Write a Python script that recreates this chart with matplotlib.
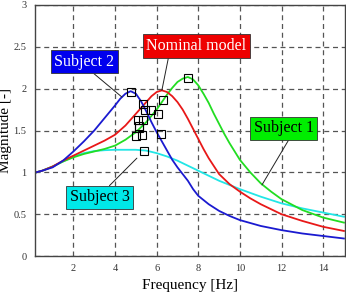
import matplotlib
matplotlib.use('Agg')
import matplotlib.pyplot as plt

plt.rcParams['font.family'] = ['Liberation Serif', 'DejaVu Serif']

# Frequency [Hz] / magnitude
freq_s1 = [0.2, 0.5, 1, 1.5, 2, 2.5, 3, 3.5, 4, 4.5, 5, 5.5, 6, 6.25, 6.5, 6.75,
           7, 7.25, 7.5, 7.75, 8, 8.25, 8.5, 8.75, 9, 9.25, 9.5, 9.75, 10, 10.5,
           11, 11.5, 12, 13, 14, 15]
mag_s1 = [1.0, 1.02, 1.07, 1.13, 1.18, 1.22, 1.25, 1.28, 1.32, 1.39, 1.48, 1.60,
          1.75, 1.84, 1.93, 2.01, 2.08, 2.12, 2.14, 2.11, 2.04, 1.94, 1.83, 1.70,
          1.58, 1.46, 1.35, 1.25, 1.15, 1.00, 0.87, 0.77, 0.68, 0.55, 0.46, 0.40]

freq_s2 = [0.2, 0.5, 1, 1.5, 2, 2.5, 3, 3.5, 4, 4.25, 4.5, 4.75, 5, 5.25, 5.5,
           5.75, 6, 6.25, 6.5, 6.75, 7, 7.25, 7.5, 7.75, 8, 8.5, 9, 9.5, 10, 11,
           12, 13, 14, 15]
mag_s2 = [1.0, 1.02, 1.06, 1.14, 1.25, 1.37, 1.50, 1.65, 1.80, 1.88, 1.94, 1.97,
          1.94, 1.85, 1.73, 1.60, 1.48, 1.37, 1.26, 1.15, 1.06, 0.98, 0.90, 0.80,
          0.72, 0.62, 0.54, 0.48, 0.43, 0.36, 0.31, 0.27, 0.24, 0.21]

freq_s3 = [0.2, 0.5, 1, 1.5, 2, 2.5, 3, 3.5, 4, 4.5, 5, 5.5, 6, 6.5, 7, 7.5, 8,
           8.5, 9, 9.5, 10, 11, 12, 13, 14, 15]
mag_s3 = [1.0, 1.02, 1.07, 1.13, 1.19, 1.23, 1.255, 1.265, 1.27, 1.27, 1.27, 1.26,
          1.23, 1.19, 1.14, 1.08, 1.02, 0.96, 0.90, 0.85, 0.80, 0.71, 0.63, 0.57,
          0.52, 0.47]

freq_nom = [0.2, 0.5, 1, 1.5, 2, 2.5, 3, 3.5, 4, 4.5, 5, 5.25, 5.5, 5.75, 6,
            6.25, 6.5, 6.75, 7, 7.25, 7.5, 7.75, 8, 8.25, 8.5, 9, 9.5, 10, 10.5,
            11, 12, 13, 14, 15]
mag_nom = [1.0, 1.02, 1.07, 1.14, 1.20, 1.26, 1.32, 1.38, 1.45, 1.56, 1.70, 1.77,
           1.84, 1.91, 1.96, 1.98, 1.96, 1.91, 1.84, 1.75, 1.64, 1.52, 1.40, 1.28,
           1.17, 0.98, 0.86, 0.77, 0.69, 0.62, 0.50, 0.42, 0.35, 0.30]

# identified peaks (squares)
peak_f = [4.77, 5.33, 5.46, 5.73, 6.05, 6.31, 5.09, 5.33, 5.14, 5.17, 5.01, 5.30,
          6.21, 5.41, 7.49]
peak_m = [1.955, 1.82, 1.74, 1.74, 1.70, 1.86, 1.63, 1.62, 1.56, 1.53, 1.44, 1.45,
          1.46, 1.26, 2.13]

fig = plt.figure(figsize=(3.46, 2.93), dpi=100)
ax = fig.add_axes([0.101, 0.126, 0.896, 0.857])

ax.plot(freq_s3, mag_s3, color='#22e6e6', lw=1.3)
ax.plot(freq_s1, mag_s1, color='#22dd22', lw=1.3)
ax.plot(freq_nom, mag_nom, color='#e81818', lw=1.3)
ax.plot(freq_s2, mag_s2, color='#1a1ad0', lw=1.3)
ax.plot(peak_f, peak_m, 's', mfc='none', mec='black', ms=5.5, mew=0.8)

ax.set_xlim(0.15, 15.05)
ax.set_ylim(0, 3)
ax.set_xticks([2, 4, 6, 8, 10, 12, 14])
ax.set_yticks([0, 0.5, 1, 1.5, 2, 2.5, 3])
ax.set_yticklabels(['0', '0.5', '1', '1.5', '2', '2.5', '3'])
ax.tick_params(labelsize=7.5, length=0, pad=6, colors='#333333')
ax.grid(True, linestyle=(0, (4, 3)), color='#555555', lw=0.9)
for s in ax.spines.values():
    s.set_color('#444444')
    s.set_linewidth(1.0)

ax.set_xlabel('Frequency [Hz]', fontsize=11)
ax.set_ylabel('Magnitude [-]', fontsize=11)
ax.yaxis.set_label_coords(-0.075, 0.5)

labels = [
    ('Subject 2', (2.51, 2.32), (4.33, 1.90), '#0000ee', 'white', (0.59, 0)),
    ('Nominal model', (7.90, 2.51), (6.25, 1.98), '#ee0000', 'white', (0.23, 0)),
    ('Subject 1', (12.11, 1.53), (11.06, 0.85), '#00ee00', 'black', (0.62, 0)),
    ('Subject 3', (3.26, 0.70), (5.05, 1.17), '#00e8e8', 'black', (0.6, 1)),
]
for txt, tpos, xy, fc, tc, rp in labels:
    ax.annotate(txt, xy=xy, xytext=tpos, ha='center', va='center',
                fontsize=11.5, color=tc,
                bbox=dict(boxstyle='square,pad=0.22', fc=fc, ec='#333333', lw=0.6),
                arrowprops=dict(arrowstyle='-', color='#222222', lw=0.7,
                                relpos=rp, shrinkA=0, shrinkB=0))

fig.savefig('out.png', dpi=100)
